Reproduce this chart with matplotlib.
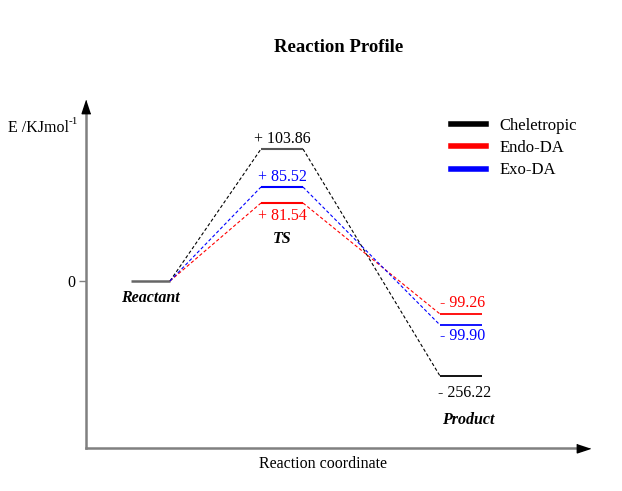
import matplotlib
matplotlib.use("Agg")
import matplotlib.pyplot as plt
from matplotlib.lines import Line2D

plt.rcParams["font.family"] = ["Liberation Serif", "DejaVu Serif"]

# ---------------------------------------------------------------------------
# Data: energies (kJ/mol) and the schematic level heights
# ---------------------------------------------------------------------------
pathways = ["Cheletropic", "Endo-DA", "Exo-DA"]
colors = ["black", "#ff0000", "#0000ff"]
ts_energy = [103.86, 81.54, 85.52]
product_energy = [-256.22, -99.26, -99.90]
reactant_energy = 0

# schematic (non-linear) heights of the levels in the drawing
ts_height = [132, 78, 94]
product_height = [-95, -33, -44]

# horizontal extent of each stage on the reaction coordinate
stage_names = ["Reactant", "TS", "Product"]
stage_start = [45, 175, 354]
stage_end = [84, 217, 396]

fig = plt.figure(figsize=(6.22, 4.91), dpi=100)
ax = fig.add_axes([86 / 622, 43 / 491, 504 / 622, 348 / 491])
ax.set_xlim(0, 504)
ax.set_ylim(-167, 181)

# reactant level
ax.plot([stage_start[0], stage_end[0]], [reactant_energy, reactant_energy],
        color="#666666", lw=1.8, solid_capstyle="butt")

for i, name in enumerate(pathways):
    c = colors[i]
    # connectors
    ax.plot([stage_end[0], stage_start[1]], [reactant_energy, ts_height[i]],
            color=c, lw=0.8, ls=(0, (3, 2)))
    ax.plot([stage_end[1], stage_start[2]], [ts_height[i], product_height[i]],
            color=c, lw=0.8, ls=(0, (3, 2)))
    # levels
    ts_col = "#555555" if i == 0 else c
    ax.plot([stage_start[1], stage_end[1]], [ts_height[i]] * 2,
            color=ts_col, lw=1.5, solid_capstyle="butt")
    ax.plot([stage_start[2], stage_end[2]], [product_height[i]] * 2,
            color=c, lw=1.3, solid_capstyle="butt")

fs = 11.5
ts_mid = (stage_start[1] + stage_end[1]) / 2
pr_mid = (stage_start[2] + stage_end[2]) / 2
ax.text(ts_mid, ts_height[0] + 10, f"+ {ts_energy[0]:.2f}", color=colors[0],
        ha="center", va="center", fontsize=fs)
ax.text(ts_mid, ts_height[2] + 10, f"+ {ts_energy[2]:.2f}", color=colors[2],
        ha="center", va="center", fontsize=fs)
ax.text(ts_mid, ts_height[1] - 13, f"+ {ts_energy[1]:.2f}", color=colors[1],
        ha="center", va="center", fontsize=fs)
ax.text(pr_mid + 2, product_height[1] + 11, f"- {abs(product_energy[1]):.2f}",
        color=colors[1], ha="center", va="center", fontsize=fs)
ax.text(pr_mid + 2, product_height[2] - 11, f"- {abs(product_energy[2]):.2f}",
        color=colors[2], ha="center", va="center", fontsize=fs)
ax.text(pr_mid + 4, product_height[0] - 17, f"- {abs(product_energy[0]):.2f}",
        color=colors[0], ha="center", va="center", fontsize=fs)

# stage names
ax.text(64, -17, stage_names[0], ha="center", va="center", fontsize=fs,
        fontweight="bold", fontstyle="italic")
ax.text(ts_mid, 42, stage_names[1], ha="center", va="center", fontsize=fs,
        fontweight="bold", fontstyle="italic")
ax.text(pr_mid + 7, -139, stage_names[2], ha="center", va="center", fontsize=fs,
        fontweight="bold", fontstyle="italic")

# axes with arrows
for s in ax.spines.values():
    s.set_visible(False)
ax.plot([0, 0], [0, 0.97], color="#808080", lw=1.8, transform=ax.transAxes,
        clip_on=False)
ax.plot([0, 0.98], [0, 0], color="#808080", lw=1.8, transform=ax.transAxes,
        clip_on=False)
ax.plot([0], [1], marker=[(0, 0), (-0.33, -1), (0.33, -1)], markersize=19,
        color="black", transform=ax.transAxes, clip_on=False)
ax.plot([1], [0], marker=[(0, 0), (-1, -0.33), (-1, 0.33)], markersize=19,
        color="black", transform=ax.transAxes, clip_on=False)

ax.set_xticks([])
ax.set_yticks([reactant_energy])
ax.set_yticklabels(["0"], fontsize=fs)
ax.tick_params(axis="y", length=5, width=1, color="#808080", pad=3)

ylab = ax.text(-78 / 504, 0.92, "E /KJmol", transform=ax.transAxes,
               fontsize=fs, ha="left", va="center")
ax.annotate("-1", xy=(1, 0.62), xycoords=ylab, fontsize=8, ha="left",
            va="bottom")
ax.text(0.47, -0.046, "Reaction coordinate", transform=ax.transAxes,
        fontsize=fs, ha="center", va="center")

handles = [Line2D([0], [0], color=c, lw=4) for c in colors]
ax.legend(handles, pathways, loc="upper left", bbox_to_anchor=(0.71, 0.968),
          frameon=False, fontsize=12, handlelength=2.1, handletextpad=0.85,
          labelspacing=0.38, borderaxespad=0)

fig.text(339 / 622, 1 - 48 / 491, "Reaction Profile", ha="center", va="center",
         fontsize=13.5, fontweight="bold")

fig.savefig("out.png", dpi=100)
